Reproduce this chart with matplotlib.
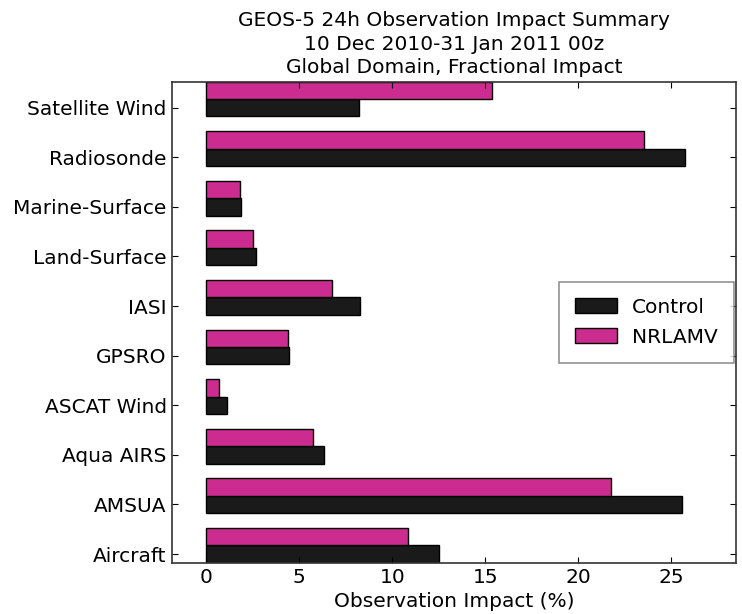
import matplotlib
matplotlib.use("Agg")
import matplotlib.pyplot as plt
import numpy as np

# observation types, bottom to top
obs_types = ["Aircraft", "AMSUA", "Aqua AIRS", "ASCAT Wind", "GPSRO",
             "IASI", "Land-Surface", "Marine-Surface", "Radiosonde",
             "Satellite Wind"]
control = [12.5, 25.56, 6.34, 1.11, 4.43, 8.26, 2.69, 1.86, 25.7, 8.19]
nrlamv = [10.85, 21.75, 5.72, 0.66, 4.41, 6.77, 2.51, 1.79, 23.52, 15.38]

series_names = ["Control", "NRLAMV"]
title_lines = ["GEOS-5 24h Observation Impact Summary",
               "10 Dec 2010-31 Jan 2011 00z",
               "Global Domain, Fractional Impact"]

fs = 14.5
fig = plt.figure(figsize=(7.42, 6.14), dpi=100, facecolor="white")
ax = fig.add_axes([0.2314, 0.0835, 0.7606, 0.7835])

y = np.arange(len(obs_types))
h = 0.35
ax.barh(y, control, height=h, color="#1a1a1a", edgecolor="black",
        linewidth=1, label=series_names[0])
ax.barh(y + h, nrlamv, height=h, color="#cc2c90", edgecolor="black",
        linewidth=1, label=series_names[1])

ax.set_yticks(y)
ax.set_yticklabels(obs_types, fontsize=fs)
ax.set_xticks([0, 5, 10, 15, 20, 25])
ax.tick_params(axis="x", labelsize=fs)
ax.tick_params(direction="in", top=True, right=True, length=4, width=0.8)
ax.set_xlim(-1.86, 28.47)
ax.set_ylim(-h / 2, len(obs_types) - 1 + h + h / 2)
ax.set_xlabel("Observation Impact (%)", fontsize=fs)
ax.set_title("\n".join(title_lines), fontsize=fs, linespacing=1.3, pad=6)

for s in ax.spines.values():
    s.set_linewidth(1.2)
    s.set_color("#333333")

leg = ax.legend(loc="center right", bbox_to_anchor=(0.9965, 0.5),
                fontsize=fs, fancybox=False, borderaxespad=0,
                borderpad=0.8, handlelength=2.1, handleheight=0.75,
                handletextpad=0.75, labelspacing=0.55)
leg.get_frame().set_edgecolor("#777777")
leg.get_frame().set_linewidth(1.2)

fig.savefig("out.png", dpi=100, facecolor="white")
